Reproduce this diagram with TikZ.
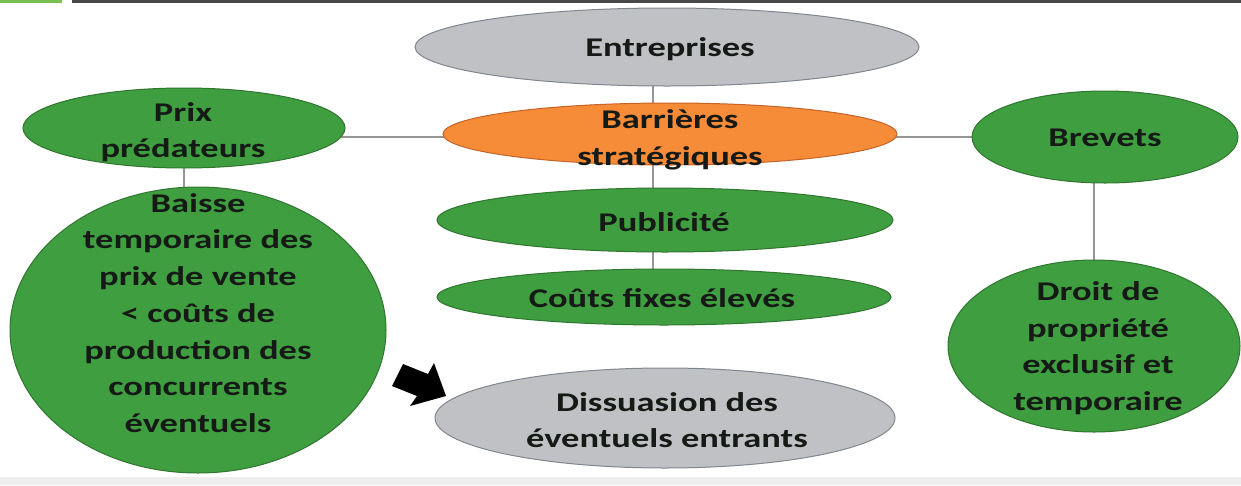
\documentclass[tikz,border=0pt]{standalone}
\usepackage{fontspec}
\setmainfont{Carlito}
\usetikzlibrary{shapes.geometric}
\pgfdeclarelayer{background}
\pgfsetlayers{background,main}

\definecolor{leaf}{RGB}{63,158,63}
\definecolor{leafdark}{RGB}{48,118,48}
\definecolor{tang}{RGB}{246,140,56}
\definecolor{tangdark}{RGB}{196,100,40}
\definecolor{stone}{RGB}{192,193,196}
\definecolor{stonedark}{RGB}{128,134,142}
\definecolor{ink}{RGB}{22,26,22}
\definecolor{wire}{RGB}{150,150,150}
\definecolor{rule}{RGB}{72,72,72}
\definecolor{tab}{RGB}{120,190,80}
\definecolor{footer}{RGB}{238,238,238}

\begin{document}
\begin{tikzpicture}[x=1pt,y=-1pt,
  oval/.style={ellipse, line width=1pt, inner sep=0pt},
  greenoval/.style={oval, fill=leaf, draw=leafdark},
  orangeoval/.style={oval, fill=tang, draw=tangdark},
  greyoval/.style={oval, fill=stone, draw=stonedark},
  txt/.style={font=\fontsize{27}{36.7}\selectfont\bfseries, align=center,
    text=ink, inner sep=0pt, xscale=1.35, transform shape},
  link/.style={draw=wire, line width=1.3pt}]

\useasboundingbox (0,0) rectangle (1241,485);

% ellipses
\node[greyoval,   minimum width=504pt, minimum height=78pt]  (ent)    at (667,47)   {};
\node[orangeoval, minimum width=454pt, minimum height=62pt]  (bar)    at (670,134)  {};
\node[greenoval,  minimum width=456pt, minimum height=64pt]  (pub)    at (665,220)  {};
\node[greenoval,  minimum width=454pt, minimum height=56pt]  (couts)  at (664,297)  {};
\node[greyoval,   minimum width=460pt, minimum height=100pt] (diss)   at (665,418)  {};
\node[greenoval,  minimum width=322pt, minimum height=80pt]  (prix)   at (184,128)  {};
\node[greenoval,  minimum width=376pt, minimum height=286pt] (baisse) at (198,330)  {};
\node[greenoval,  minimum width=266pt, minimum height=92pt]  (brev)   at (1105,137) {};
\node[greenoval,  minimum width=292pt, minimum height=172pt] (droit)  at (1094,346) {};

% labels
\node[txt] (entT)    at (670,49)   {Entreprises};
\node[txt] (barT)    at (670,140)  {Barrières\\stratégiques};
\node[txt] (pubT)    at (664,222)  {Publicité};
\node[txt] (coutsT)  at (662,298)  {Coûts fixes élevés};
\node[txt] (dissT)   at (667,420)  {Dissuasion des\\éventuels entrants};
\node[txt] (prixT)   at (183,132)  {Prix\\prédateurs};
\node[txt] (baisseT) at (198,313)  {Baisse\\temporaire des\\prix de vente\\< coûts de\\production des\\concurrents\\éventuels};
\node[txt] (brevT)   at (1105,138) {Brevets};
\node[txt] (droitT)  at (1098,348) {Droit de\\propriété\\exclusif et\\temporaire};

% page ground, furniture and connectors, all behind the ellipses
\begin{pgfonlayer}{background}
  \fill[white] (0,0) rectangle (1241,485);
  \fill[tab] (0,0) rectangle (62,3);
  \fill[rule] (72,0) rectangle (1241,3);
  \fill[footer] (0,477) rectangle (1241,485);
  \draw[link] (prix |- brev) -- (brev);
  \draw[link] ([xshift=-14pt]ent.center) -- ([xshift=-11pt]couts.center);
  \draw[link] (prix) -- (prix |- baisse);
  \draw[link] (droit |- brev) -- (droit);
\end{pgfonlayer}

% block arrow pointing at the outcome
\fill[black] (403,364) -- (428,374) -- (434,363) -- (446,396) -- (410,406)
  -- (417,396) -- (392,386) -- cycle;
\end{tikzpicture}
\end{document}
